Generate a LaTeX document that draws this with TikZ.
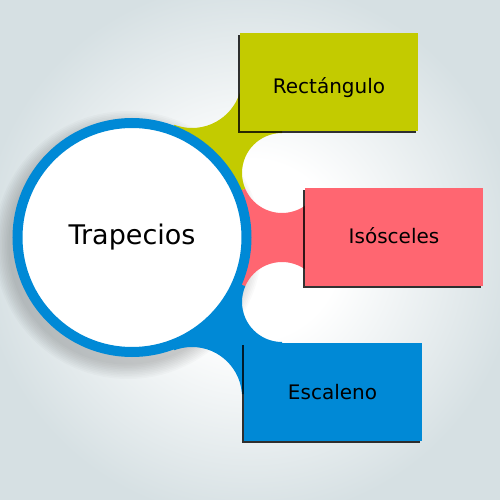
\documentclass[tikz,border=0pt]{standalone}
\usepackage{fontspec}
\setmainfont{DejaVu Sans}
\usetikzlibrary{shadows}

\definecolor{ringblue}{RGB}{0,137,214}
\definecolor{boxgreen}{RGB}{195,203,0}
\definecolor{boxpink}{RGB}{255,102,113}
\definecolor{bgedge}{RGB}{214,224,227}

\pgfdeclareradialshading{backglow}{\pgfpoint{0bp}{0bp}}%
  {color(0bp)=(white); color(9bp)=(white); color(27bp)=(bgedge); color(50bp)=(bgedge)}

\begin{document}
\begin{tikzpicture}[x=1pt, y=-1pt,
    every node/.style={font=\fontsize{20}{24}\selectfont},
    hub/.style={circle, draw=ringblue, line width=10pt, fill=white,
      minimum size=229pt, inner sep=0pt, font=\fontsize{27}{32}\selectfont},
    catbox/.style={rectangle, minimum width=178pt, minimum height=98pt, inner sep=0pt,
      text height=14.6pt, text depth=0pt,
      drop shadow={shadow xshift=-2pt, shadow yshift=-2pt, fill=black, opacity=.8}},
    lowtext/.style={text height=24pt}]
    % Background
    \fill[shading=backglow] (0,0) rectangle (500,500);
    \useasboundingbox (0,0) rectangle (500,500);

    % Centres
    \coordinate (hubC) at (132,237.5);
    \coordinate (rectC) at (329,82);
    \coordinate (isosC) at (394,236.5);
    \coordinate (escaC) at (332.5,392);
    \coordinate (cutTop) at (192,78);
    \coordinate (gapA) at (282,173);
    \coordinate (gapB) at (282,302);
    \coordinate (cutBot) at (192,397);

    % Shadow of the circle
    \foreach \k in {1,...,10}
        \fill[black, opacity=.018] (128,245) circle[radius={118+1.6*\k}];

    % Green connector
    \begin{scope}
        \clip (hubC) -- (cutTop) -- (gapA |- cutTop) -- (gapA) -- cycle;
        \fill[boxgreen, even odd rule] (0,0) rectangle (500,500)
            (cutTop) circle[radius=50] (gapA) circle[radius=40];
    \end{scope}

    % Pink connector
    \begin{scope}
        \clip (hubC) -- (gapA) -- (isosC) -- (gapB) -- cycle;
        \fill[boxpink, even odd rule] (0,0) rectangle (500,500)
            (gapA) circle[radius=40] (gapB) circle[radius=40];
    \end{scope}

    % Blue connector
    \begin{scope}
        \clip (hubC) -- (gapB) -- (gapB |- escaC) -- (cutBot) -- cycle;
        \fill[ringblue, even odd rule] (0,0) rectangle (500,500)
            (gapB) circle[radius=40] (cutBot) circle[radius=50];
    \end{scope}

    % Boxes
    \node[catbox, lowtext, fill=boxgreen] (rect) at (rectC) {Rectángulo};
    \node[catbox, fill=boxpink] (isos) at (isosC) {Isósceles};
    \node[catbox, fill=ringblue] (esca) at (escaC) {Escaleno};

    % Hub
    \node[hub] (trap) at (hubC) {Trapecios};
\end{tikzpicture}
\end{document}
